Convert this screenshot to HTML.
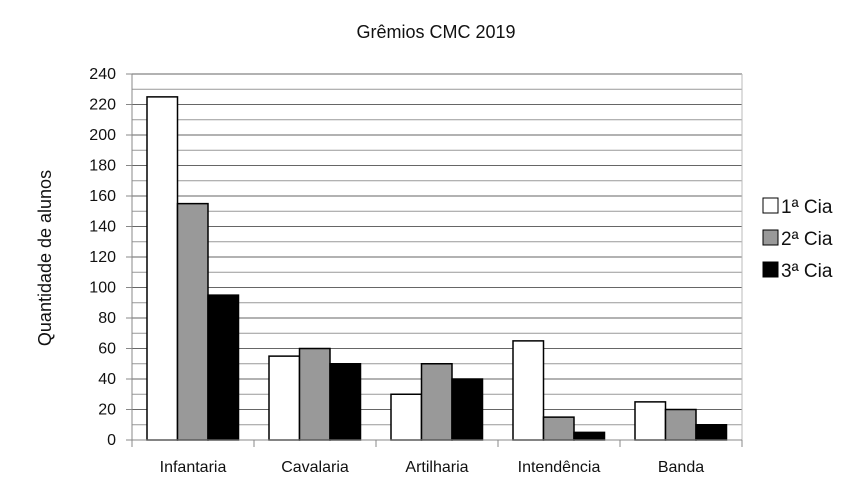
<!DOCTYPE html>
<html><head><meta charset="utf-8"><style>
body{margin:0;background:#fff;}
svg text{font-family:"Liberation Sans",sans-serif;fill:#111;}
</style></head><body>
<svg width="864" height="492" id="c">
<text x="436" y="38" font-size="18" text-anchor="middle">Grêmios CMC 2019</text>
<text transform="translate(51,258) rotate(-90)" font-size="18" text-anchor="middle">Quantidade de alunos</text>
<g id="grid"></g><g id="bars"></g><g id="axes"></g>
<g>
<rect x="763" y="198" width="15" height="15" fill="#fff" stroke="#000"/>
<text x="781" y="213" font-size="19">1ª Cia</text>
<rect x="763" y="230" width="15" height="15" fill="#999" stroke="#000"/>
<text x="781" y="245" font-size="19">2ª Cia</text>
<rect x="763" y="262" width="15" height="15" fill="#000" stroke="#000"/>
<text x="781" y="277" font-size="19">3ª Cia</text>
</g>
</svg>
<script>
const categories=["Infantaria","Cavalaria","Artilharia","Intendência","Banda"];
const cia1=[225,55,30,65,25];
const cia2=[155,60,50,15,20];
const cia3=[95,50,40,5,10];
const yTicks=[0,20,40,60,80,100,120,140,160,180,200,220,240];
const NS="http://www.w3.org/2000/svg";
const x0=132,x1=742,y0=440,y1=74,vmax=240;
const y=v=>y0-(v/vmax)*(y0-y1);
const cw=(x1-x0)/categories.length;
function mk(t,a,p){const e=document.createElementNS(NS,t);for(const k in a)e.setAttribute(k,a[k]);p.appendChild(e);return e;}
const grid=document.getElementById('grid'),bars=document.getElementById('bars'),axes=document.getElementById('axes');
for(let v=10;v<=vmax;v+=10){const l=mk('line',{x1:x0,x2:x1,y1:y(v),y2:y(v),stroke:v%20?'#999':'#666','stroke-width':1},grid);

}
const fr=mk('line',{x1:x1,x2:x1,y1:y1,y2:y0,stroke:'#bbb'},grid);


const series=[cia1,cia2,cia3],fills=['#fff','#999','#000'];
categories.forEach((c,i)=>{
 series.forEach((s,j)=>{
  const r=mk('rect',{x:x0+i*cw+15+j*30.5,y:y(s[i]),width:30.5,height:y0-y(s[i]),fill:fills[j],stroke:'#000','stroke-width':1.5},bars);
  
  
 });
 const t=mk('text',{x:x0+(i+0.5)*cw,y:472,'font-size':16,'text-anchor':'middle'},axes);t.textContent=c;
 
 
});
for(let i=0;i<=categories.length;i++){const l=mk('line',{x1:x0+i*cw,x2:x0+i*cw,y1:y0,y2:y0+7,stroke:'#888'},axes);

}
const ya=mk('line',{x1:x0,x2:x0,y1:y1,y2:y0,stroke:'#888'},axes);


const xa=mk('line',{x1:x0,x2:x1,y1:y0,y2:y0,stroke:'#888'},axes);


yTicks.forEach(v=>{
 const t=mk('text',{x:116,y:y(v)+5,'font-size':16,'text-anchor':'end'},axes);t.textContent=v;
 
 
 const l=mk('line',{x1:x0-6,x2:x0,y1:y(v),y2:y(v),stroke:'#888'},axes);
 
 
});
</script>
</body></html>
